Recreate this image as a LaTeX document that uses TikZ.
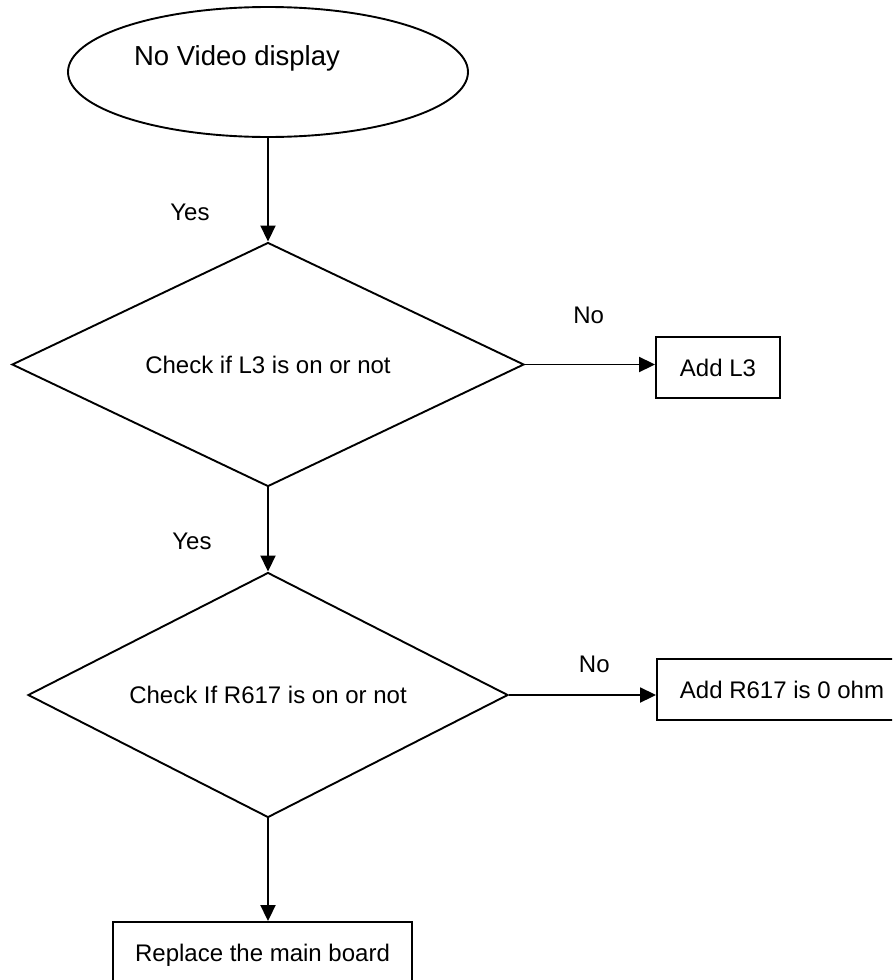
\documentclass[tikz,border=0pt]{standalone}
\usepackage{fontspec}
\setmainfont{Liberation Sans}
\usetikzlibrary{shapes.geometric, positioning, arrows.meta}

\begin{document}
\begin{tikzpicture}[x=1pt, y=-1pt, on grid, line width=1.9pt,
    >={Triangle[length=16pt,width=15pt]},
    font=\fontsize{24pt}{28pt}\selectfont,
    startnode/.style={ellipse, draw, minimum width=400pt, minimum height=130pt, inner sep=0pt},
    decision/.style={diamond, draw, aspect=2, inner sep=0pt},
    action/.style={rectangle, draw, minimum height=61pt, inner sep=0pt}]
        \clip (0,0) rectangle (892,980);
        % Define the nodes
        \node[startnode] (start) at (268,72) {};
        \node[anchor=base, inner sep=0pt, font=\fontsize{27.5pt}{32pt}\selectfont] (startText) at (237,65) {No Video display};
        \node[decision, minimum width=512pt, minimum height=244pt] (checkL3) [below=292.5pt of start] {Check if L3 is on or not};
        \node[action, minimum width=124pt] (addL3) [right=450pt of checkL3, yshift=-3pt] {Add L3};
        \node[decision, minimum width=480pt, minimum height=245pt] (checkR617) [below=330.5pt of checkL3] {Check If R617 is on or not};
        \node[action, minimum width=250pt] (addR617) [right=514pt of checkR617, yshift=5.5pt] {Add R617 is 0 ohm};
        \node[action, minimum width=299pt, minimum height=66pt] (board) [below=260pt of checkR617, xshift=-5.5pt] {Replace the main board};

        % Define the transitions
        \path[->]
        (start) edge node[pos=0.72, xshift=-78pt] {Yes} (checkL3)
        (checkL3.east) edge node[pos=0.49, yshift=49pt] {No} (checkL3.east -| addL3.west)
        (checkL3) edge node[pos=0.64, xshift=-76pt] {Yes} (checkR617)
        (checkR617.east) edge node[pos=0.58, yshift=31pt] {No} (checkR617.east -| addR617.west)
        (checkR617.south) edge (checkR617.south |- board.north);
    \end{tikzpicture}
\end{document}
